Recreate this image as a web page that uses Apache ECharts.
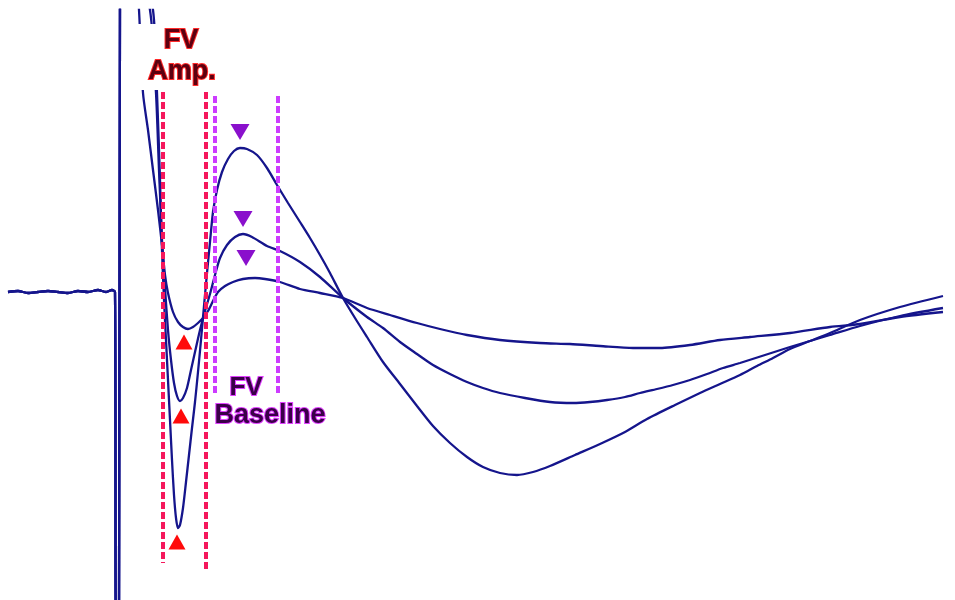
<!DOCTYPE html>
<html>
<head>
<meta charset="utf-8">
<script src="https://cdn.jsdelivr.net/npm/echarts@6.0.0/dist/echarts.min.js"></script>
<style>
  html, body { margin: 0; padding: 0; background: #fff; }
  #chart { width: 955px; height: 600px; }
</style>
</head>
<body>
<div id="chart"></div>
<script>
// x: time after stimulus (ms), y: field potential (mV)

// baseline + stimulus artifact, shared by all three sweeps
const baselineArtifact = [
  [-2.75, 0], [-2.5, 0.005], [-2.25, -0.005], [-2.0, 0], [-1.75, 0.005], [-1.5, 0],
  [-1.25, -0.005], [-1.0, 0.005], [-0.75, 0], [-0.5, 0.01], [-0.3, 0], [-0.15, 0.01],
  [-0.075, 0], [-0.05, -1.64], [0.025, -1.64], [0.05, 1.51]
];

// weak stimulus
const sweepSmall = [
  [0.475, 1.51], [0.525, 1.41], [0.625, 0.995], [0.75, 0.81], [0.875, 0.61], [1.0, 0.41],
  [1.1, 0.235], [1.175, 0.085], [1.25, -0.005], [1.375, -0.1], [1.5, -0.15], [1.625, -0.175],
  [1.75, -0.185], [1.875, -0.175], [2.0, -0.155], [2.125, -0.13], [2.25, -0.095], [2.375, -0.045],
  [2.5, 0], [2.675, 0.03], [2.875, 0.05], [3.125, 0.065], [3.425, 0.07], [3.675, 0.065],
  [4.05, 0.05], [4.55, 0.015], [5.05, -0.005], [5.625, -0.03], [6.225, -0.08], [6.8, -0.115],
  [7.475, -0.155], [8.05, -0.185], [8.725, -0.215], [9.55, -0.24], [10.55, -0.255], [11.3, -0.26],
  [12.05, -0.27], [12.875, -0.28], [13.55, -0.28], [14.3, -0.265], [15.05, -0.24], [15.8, -0.225],
  [16.8, -0.205], [17.8, -0.175], [18.55, -0.16], [19.55, -0.125], [20.625, -0.1]
];

// medium stimulus
const sweepMid = [
  [0.55, 1.51], [0.8, 1.41], [0.95, 0.995], [1.025, 0.61], [1.1, 0.26], [1.175, 0.02],
  [1.25, -0.19], [1.325, -0.34], [1.4, -0.455], [1.475, -0.52], [1.55, -0.545], [1.625, -0.53],
  [1.725, -0.48], [1.825, -0.39], [1.925, -0.3], [2.05, -0.19], [2.175, -0.095], [2.3, -0.01],
  [2.425, 0.085], [2.55, 0.17], [2.725, 0.235], [2.925, 0.275], [3.125, 0.29], [3.35, 0.275],
  [3.725, 0.23], [4.05, 0.205], [4.55, 0.15], [5.05, 0.075], [5.625, -0.03], [6.225, -0.125],
  [6.625, -0.18], [7.05, -0.25], [7.475, -0.31], [7.875, -0.365], [8.3, -0.41], [8.725, -0.45],
  [9.125, -0.48], [9.55, -0.505], [10.175, -0.53], [10.8, -0.55], [11.375, -0.555], [11.8, -0.55],
  [12.225, -0.54], [12.675, -0.525], [13.05, -0.505], [13.475, -0.485], [13.875, -0.465], [14.3, -0.44],
  [14.725, -0.41], [15.125, -0.38], [15.55, -0.355], [16.175, -0.315], [16.8, -0.275], [17.3, -0.245],
  [17.8, -0.215], [18.55, -0.17], [19.55, -0.12], [20.625, -0.08]
];

// strong stimulus
const sweepBig = [
  [0.625, 1.51], [0.875, 1.41], [0.975, 0.995], [1.05, 0.56], [1.1, 0.21], [1.15, -0.04],
  [1.2, -0.24], [1.25, -0.44], [1.3, -0.64], [1.35, -0.84], [1.4, -1.015], [1.45, -1.13],
  [1.5, -1.18], [1.55, -1.165], [1.625, -1.08], [1.7, -0.95], [1.775, -0.815], [1.85, -0.68],
  [1.925, -0.55], [2.0, -0.4], [2.075, -0.24], [2.15, -0.07], [2.225, 0.095], [2.3, 0.25],
  [2.375, 0.4], [2.475, 0.51], [2.6, 0.6], [2.75, 0.665], [2.9, 0.705], [3.05, 0.72],
  [3.225, 0.715], [3.475, 0.685], [3.725, 0.62], [3.975, 0.535], [4.25, 0.445], [4.55, 0.35],
  [4.8, 0.27], [5.05, 0.185], [5.3, 0.095], [5.625, -0.03], [5.925, -0.13], [6.225, -0.225],
  [6.625, -0.35], [7.05, -0.46], [7.475, -0.57], [7.875, -0.67], [8.3, -0.755], [8.725, -0.825],
  [9.125, -0.875], [9.55, -0.905], [9.975, -0.915], [10.375, -0.9], [10.8, -0.87], [11.425, -0.815],
  [12.05, -0.76], [12.675, -0.7], [13.225, -0.635], [13.925, -0.565], [14.55, -0.505], [15.05, -0.46],
  [15.55, -0.415], [15.975, -0.37], [16.375, -0.33], [16.8, -0.285], [17.3, -0.245], [17.8, -0.205],
  [18.55, -0.14], [19.55, -0.075], [20.625, -0.02]
];

// FV trough markers (red) and post-volley peak markers (purple)
const troughMarks = [[1.65, -0.25], [1.575, -0.62], [1.475, -1.25]];
const peakMarks = [[3.05, 0.8], [3.125, 0.365], [3.2, 0.17]];

// cursor windows: [time, top, bottom]
const fvAmpCursors = [[1.125, 1.0, -1.355], [2.2, 1.0, -1.385]];
const fvBaseCursors = [[2.425, 0.98, -0.515], [4.0, 0.98, -0.515]];

const traceColor = '#15158c';

const chart = echarts.init(document.getElementById('chart'));

function sweep(pts) {
  return {
    type: 'line',
    data: baselineArtifact.concat(pts),
    showSymbol: false,
    smooth: 0.25,
    clip: true,
    silent: true,
    z: 3,
    lineStyle: { color: traceColor, width: 2.3 }
  };
}

function cursorLines(list) {
  return list.map(function (c) {
    return [{ coord: [c[0], c[1]] }, { coord: [c[0], c[2]] }];
  });
}

const option = {
  animation: false,
  backgroundColor: '#fff',
  grid: { left: 0, right: 0, top: 10, bottom: 0 },
  xAxis: { type: 'value', min: -2.95, max: 20.925, show: false },
  yAxis: { type: 'value', min: -1.54, max: 1.41, show: false },
  series: [
    sweep(sweepSmall),
    sweep(sweepMid),
    sweep(sweepBig),
    {
      type: 'scatter',
      data: troughMarks,
      symbol: 'triangle',
      symbolSize: [17, 15],
      itemStyle: { color: '#ff0a0a', opacity: 1 },
      silent: true,
      z: 4,
      markLine: {
        silent: true,
        symbol: ['none', 'none'],
        label: { show: false },
        lineStyle: { color: '#f5175c', width: 4, type: [7, 3], opacity: 1 },
        data: cursorLines(fvAmpCursors)
      }
    },
    {
      type: 'scatter',
      data: peakMarks,
      symbol: 'triangle',
      symbolRotate: 180,
      symbolSize: [19, 16],
      itemStyle: { color: '#8a10cc', opacity: 1 },
      silent: true,
      z: 4,
      markLine: {
        silent: true,
        symbol: ['none', 'none'],
        label: { show: false },
        lineStyle: { color: '#cc3cff', width: 4, type: [7, 3], opacity: 1 },
        data: cursorLines(fvBaseCursors)
      }
    }
  ],
  graphic: [
    // white patch behind the "FV Amp." label
    { type: 'rect', z: 50, shape: { x: 128, y: 24, width: 98, height: 66 }, style: { fill: '#fff' } },
    { type: 'text', z: 51, x: 181, y: 41,
      style: { text: 'FV', font: 'bold 27px "Liberation Sans", Arial, sans-serif', fill: '#5c0010',
        stroke: '#ff2a2a', lineWidth: 2, align: 'center', verticalAlign: 'middle',
        textAlign: 'center', textVerticalAlign: 'middle' } },
    { type: 'text', z: 51, x: 182, y: 72,
      style: { text: 'Amp.', font: 'bold 27px "Liberation Sans", Arial, sans-serif', fill: '#5c0010',
        stroke: '#ff2a2a', lineWidth: 2, align: 'center', verticalAlign: 'middle',
        textAlign: 'center', textVerticalAlign: 'middle' } },
    { type: 'text', z: 51, x: 246, y: 388,
      style: { text: 'FV', font: 'bold 26px "Liberation Sans", Arial, sans-serif', fill: '#3a0048',
        stroke: '#e040ff', lineWidth: 2, align: 'center', verticalAlign: 'middle',
        textAlign: 'center', textVerticalAlign: 'middle' } },
    { type: 'text', z: 51, x: 270, y: 416,
      style: { text: 'Baseline', font: 'bold 27px "Liberation Sans", Arial, sans-serif', fill: '#3a0048',
        stroke: '#e040ff', lineWidth: 2, align: 'center', verticalAlign: 'middle',
        textAlign: 'center', textVerticalAlign: 'middle' } }
  ]
};

chart.setOption(option);
</script>
</body>
</html>
